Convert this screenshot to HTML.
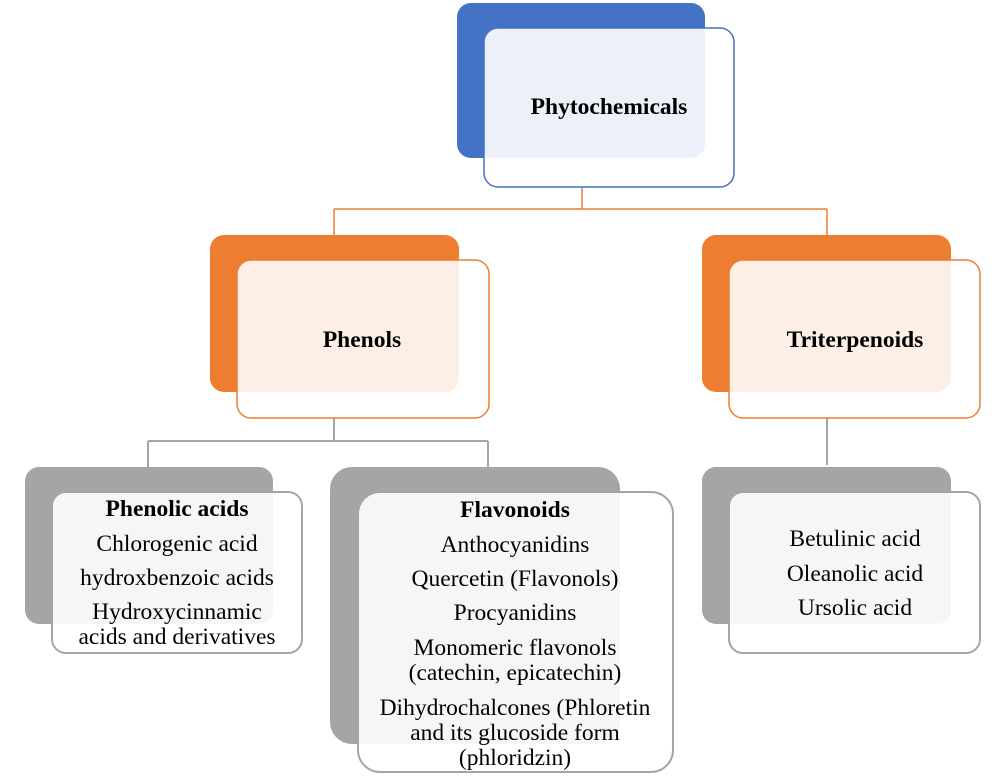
<!DOCTYPE html>
<html><head><meta charset="utf-8"><style>html,body{margin:0;padding:0;background:#fff}svg{display:block}</style></head>
<body>
<svg width="1004" height="776" viewBox="0 0 1004 776" xmlns="http://www.w3.org/2000/svg" font-family="Liberation Serif, serif" font-size="23.5" text-anchor="middle" fill="#000">
<g stroke="#ed7d31" stroke-width="1.5" fill="none">
<path d="M582 187 V209 M334 209 H827 M334 209 V237 M827 209 V237"/>
</g>
<g stroke="#a5a5a5" stroke-width="2" fill="none">
<path d="M334 418 V441 M148 441 H488 M148 441 V467 M488 441 V467 M827 418 V465"/>
</g>
<rect x="457" y="3" width="248" height="155" rx="14" fill="#4472c4"/>
<rect x="484" y="28" width="250" height="159" rx="14" fill="#fff" fill-opacity="0.9" stroke="#4472c4" stroke-width="1.5"/>
<text x="609" y="114" font-weight="bold">Phytochemicals</text>
<rect x="210" y="235" width="249" height="157" rx="14" fill="#ed7d31"/>
<rect x="237" y="260" width="252" height="158" rx="14" fill="#fff" fill-opacity="0.88" stroke="#ed7d31" stroke-width="1.5"/>
<text x="362" y="347" font-weight="bold">Phenols</text>
<rect x="702" y="235" width="249" height="157" rx="14" fill="#ed7d31"/>
<rect x="729" y="260" width="251" height="158" rx="14" fill="#fff" fill-opacity="0.88" stroke="#ed7d31" stroke-width="1.5"/>
<text x="855" y="347" font-weight="bold">Triterpenoids</text>
<rect x="25" y="467" width="248" height="157" rx="14" fill="#a5a5a5"/>
<rect x="52" y="492" width="250" height="161" rx="14" fill="#fff" fill-opacity="0.9" stroke="#a5a5a5" stroke-width="2"/>
<text x="177" y="516" font-weight="bold">Phenolic acids</text>
<text x="177" y="551">Chlorogenic acid</text>
<text x="177" y="585">hydroxbenzoic acids</text>
<text x="177" y="619">Hydroxycinnamic</text>
<text x="177" y="644">acids and derivatives</text>
<rect x="330" y="467" width="290" height="277" rx="22" fill="#a5a5a5"/>
<rect x="358" y="492" width="315" height="280" rx="22" fill="#fff" fill-opacity="0.9" stroke="#a5a5a5" stroke-width="2"/>
<text x="515" y="517" font-weight="bold">Flavonoids</text>
<text x="515" y="552">Anthocyanidins</text>
<text x="515" y="586">Quercetin (Flavonols)</text>
<text x="515" y="620">Procyanidins</text>
<text x="515" y="655">Monomeric flavonols</text>
<text x="515" y="680">(catechin, epicatechin)</text>
<text x="515" y="715">Dihydrochalcones (Phloretin</text>
<text x="515" y="740">and its glucoside form</text>
<text x="515" y="765">(phloridzin)</text>
<rect x="702" y="467" width="249" height="157" rx="14" fill="#a5a5a5"/>
<rect x="729" y="492" width="251" height="161" rx="14" fill="#fff" fill-opacity="0.9" stroke="#a5a5a5" stroke-width="2"/>
<text x="855" y="546">Betulinic acid</text>
<text x="855" y="581">Oleanolic acid</text>
<text x="855" y="615">Ursolic acid</text>
</svg>
</body></html>
